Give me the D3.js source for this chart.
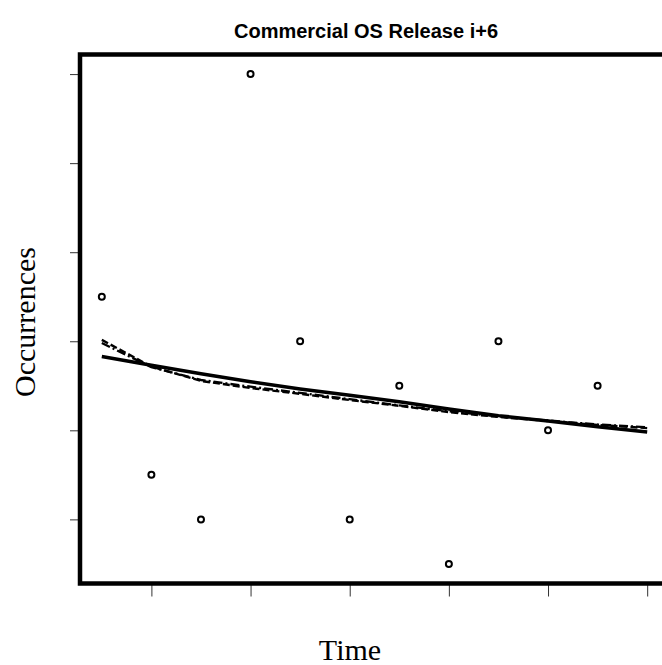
<!DOCTYPE html>
<html>
<head>
<meta charset="utf-8">
<script src="https://cdn.jsdelivr.net/npm/d3@7"></script>
<style>
  html, body { margin: 0; padding: 0; background: #fff; }
  svg { display: block; }
</style>
</head>
<body>
<script>
// Observed occurrences per time step
const time = [1, 2, 3, 4, 5, 6, 7, 8, 9, 10, 11];
const occurrences = [7, 3, 2, 12, 6, 2, 5, 1, 6, 4, 5];

// Fitted trend curves, evaluated at each step through the forecast horizon
const fitTime = [1, 2, 3, 4, 5, 6, 7, 8, 9, 10, 11, 12];
const fitSolid = [5.66, 5.46, 5.27, 5.09, 4.93, 4.79, 4.64, 4.48, 4.33, 4.21, 4.08, 3.96];
const fitDashed = [6.03, 5.43, 5.11, 4.95, 4.82, 4.68, 4.55, 4.41, 4.30, 4.21, 4.12, 4.05];
const fitDotDash = [5.96, 5.42, 5.13, 4.98, 4.84, 4.70, 4.56, 4.43, 4.31, 4.22, 4.13, 4.07];

const xTicks = [2, 4, 6, 8, 10, 12];
const yTicks = [2, 4, 6, 8, 10, 12];

const title = "Commercial OS Release i+6";
const xLabel = "Time";
const yLabel = "Occurrences";

const W = 662, H = 665;
const box = { left: 80, right: 669, top: 54.5, bottom: 583.5 };

const svg = d3.select("body").append("svg")
  .attr("width", W).attr("height", H);

const x = d3.scaleLinear().domain([0.56, 12.44]).range([box.left, box.right]);
const y = d3.scaleLinear().domain([0.56, 12.44]).range([box.bottom, box.top]);

// Axes: ticks only, no numbers
const xAxis = svg.append("g")
  .attr("transform", `translate(0,${box.bottom})`)
  .call(d3.axisBottom(x).tickValues(xTicks).tickSize(13).tickFormat(""));
const yAxis = svg.append("g")
  .attr("transform", `translate(${box.left},0)`)
  .call(d3.axisLeft(y).tickValues(yTicks).tickSize(10).tickFormat(""));
[xAxis, yAxis].forEach(g => {
  g.select(".domain").remove();
  g.selectAll(".tick line").attr("stroke", "#333").attr("stroke-width", 1);
});

// Plot frame
svg.append("rect")
  .attr("x", box.left).attr("y", box.top)
  .attr("width", box.right - box.left).attr("height", box.bottom - box.top)
  .attr("fill", "none").attr("stroke", "#000").attr("stroke-width", 4.5);

const line = vals => d3.line()
  .x((d, i) => x(fitTime[i]))
  .y(d => y(d))(vals);

svg.append("path").attr("d", line(fitDashed))
  .attr("fill", "none").attr("stroke", "#000").attr("stroke-width", 2.4)
  .attr("stroke-dasharray", "7,3");
svg.append("path").attr("d", line(fitDotDash))
  .attr("fill", "none").attr("stroke", "#000").attr("stroke-width", 2.4)
  .attr("stroke-dasharray", "9,3,2,3");
svg.append("path").attr("d", line(fitSolid))
  .attr("fill", "none").attr("stroke", "#000").attr("stroke-width", 3.5);

// Observed points as open circles
svg.append("g").selectAll("circle")
  .data(time.map((t, i) => ({ t, v: occurrences[i] })))
  .join("circle")
  .attr("cx", d => x(d.t)).attr("cy", d => y(d.v))
  .attr("r", 3).attr("fill", "#fff")
  .attr("stroke", "#000").attr("stroke-width", 2);

// Titles
svg.append("text")
  .attr("x", 366).attr("y", 38)
  .attr("text-anchor", "middle")
  .attr("font-family", "'Liberation Sans', Arial, sans-serif")
  .attr("font-weight", "bold").attr("font-size", 20)
  .text(title);

svg.append("text")
  .attr("x", 350).attr("y", 660)
  .attr("text-anchor", "middle")
  .attr("font-family", "'Liberation Serif', 'Times New Roman', serif")
  .attr("font-size", 30)
  .text(xLabel);

svg.append("text")
  .attr("transform", `translate(35,322) rotate(-90)`)
  .attr("text-anchor", "middle")
  .attr("font-family", "'Liberation Serif', 'Times New Roman', serif")
  .attr("font-size", 30)
  .text(yLabel);
</script>
</body>
</html>
